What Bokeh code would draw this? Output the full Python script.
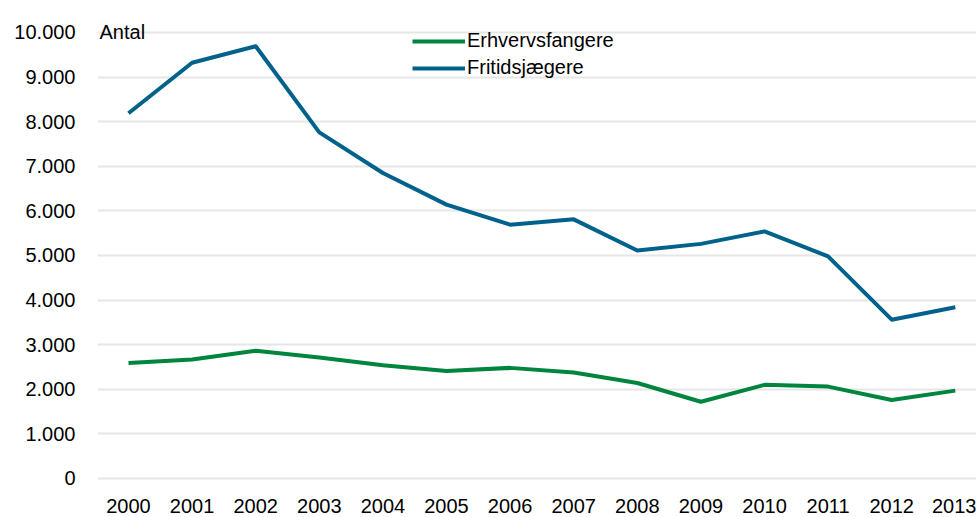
from bokeh.plotting import figure
from bokeh.models import Range1d, FixedTicker, Legend, LegendItem, Label
from bokeh.embed import file_html
from bokeh.resources import INLINE

years = [2000, 2001, 2002, 2003, 2004, 2005, 2006, 2007, 2008, 2009, 2010, 2011, 2012, 2013]
erhvervsfangere = [2590, 2670, 2865, 2715, 2540, 2410, 2480, 2375, 2140, 1720, 2100, 2060, 1760, 1970]
fritidsjaegere = [8190, 9320, 9690, 7760, 6850, 6140, 5690, 5810, 5110, 5260, 5540, 4980, 3560, 3840]
y_ticks = [0, 1000, 2000, 3000, 4000, 5000, 6000, 7000, 8000, 9000, 10000]
y_tick_labels = ["0", "1.000", "2.000", "3.000", "4.000", "5.000", "6.000", "7.000", "8.000", "9.000", "10.000"]
x_tick_labels = [str(y) for y in years]

FONT = "Liberation Sans"
GREEN = "#00853f"
BLUE = "#00628c"

W, H = 976, 517
X0 = 1999.5126
p = figure(width=W, height=H, output_backend="svg", toolbar_location=None,
           x_range=Range1d(X0, 2013.333), y_range=Range1d(-135, 10717),
           min_border_left=97, min_border_right=0, min_border_top=0, min_border_bottom=33)
p.outline_line_color = None
p.background_fill_color = "white"
p.border_fill_color = "white"

p.xgrid.grid_line_color = None
p.ygrid.grid_line_color = "#e6e6e6"
p.ygrid.grid_line_width = 2

p.yaxis.ticker = FixedTicker(ticks=y_ticks)
p.yaxis.major_label_overrides = {t: l for t, l in zip(y_ticks, y_tick_labels)}
p.xaxis.ticker = FixedTicker(ticks=years)
p.xaxis.major_label_overrides = {t: l for t, l in zip(years, x_tick_labels)}

for ax in (p.xaxis, p.yaxis):
    ax.axis_line_color = None
    ax.major_tick_line_color = None
    ax.minor_tick_line_color = None
    ax.major_tick_out = 0
    ax.major_tick_in = 0
    ax.major_label_text_font = FONT
    ax.major_label_text_font_size = "20px"
    ax.major_label_text_color = "#000000"
p.yaxis.major_label_standoff = 22
p.xaxis.major_label_standoff = 14

r1 = p.line(years, erhvervsfangere, line_color=GREEN, line_width=4, line_join="round")
r2 = p.line(years, fritidsjaegere, line_color=BLUE, line_width=4, line_join="round")

legend = Legend(items=[LegendItem(label="Erhvervsfangere", renderers=[r1]),
                       LegendItem(label="Fritidsjægere", renderers=[r2])],
                location=(315, 405), orientation="vertical",
                label_text_font=FONT, label_text_font_size="20px", label_text_color="#000000",
                glyph_width=53, glyph_height=20, label_standoff=2, spacing=4,
                padding=0, margin=0, border_line_color=None, background_fill_alpha=0)
p.add_layout(legend)

p.add_layout(Label(x=X0, y=10000, text="Antal", x_offset=2, y_offset=0,
                   text_font=FONT, text_font_size="20px", text_baseline="alphabetic",
                   text_color="#000000"))

open("out.html", "w").write(file_html(p, INLINE))
